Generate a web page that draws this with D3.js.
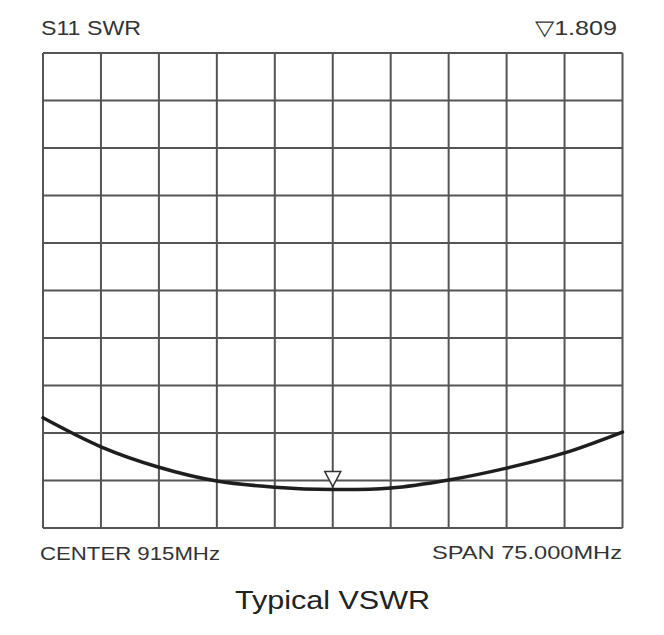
<!DOCTYPE html>
<html>
<head>
<meta charset="utf-8">
<script src="https://cdn.jsdelivr.net/npm/d3@7"></script>
<style>
  html, body { margin: 0; padding: 0; background: #fff; }
  svg { display: block; }
  text { font-family: Arial, "Liberation Sans", sans-serif; fill: #333; }
</style>
</head>
<body>
<svg id="chart" width="664" height="635"></svg>
<script>
// ---- data ----
const freqMHz = [877.5, 885, 892.5, 900, 907.5, 915, 922.5, 930, 937.5, 945, 952.5];
const swr     = [3.32, 2.71, 2.28, 1.99, 1.86, 1.809, 1.84, 2.01, 2.26, 2.58, 3.02];
const xGrid   = [877.5, 885, 892.5, 900, 907.5, 915, 922.5, 930, 937.5, 945, 952.5];
const yGrid   = [1, 2, 3, 4, 5, 6, 7, 8, 9, 10, 11];
const markerFreq = 915;
const markerValue = 1.809;
const titleLeft = "S11 SWR";
const centerLabel = "CENTER 915MHz";
const spanLabel = "SPAN 75.000MHz";
const caption = "Typical VSWR";

const svg = d3.select("#chart");
const m = { left: 43, right: 622.5, top: 53, bottom: 528 };

const x = d3.scaleLinear().domain([877.5, 952.5]).range([m.left, m.right]);
const y = d3.scaleLinear().domain([1, 11]).range([m.bottom, m.top]);

// grid
const g = svg.append("g");
g.selectAll("line.v").data(xGrid).join("line")
  .attr("x1", d => x(d)).attr("x2", d => x(d))
  .attr("y1", m.top).attr("y2", m.bottom)
  .attr("stroke", "#555").attr("stroke-width", 2);
g.selectAll("line.h").data(yGrid).join("line")
  .attr("y1", d => y(d)).attr("y2", d => y(d))
  .attr("x1", m.left).attr("x2", m.right)
  .attr("stroke", "#555").attr("stroke-width", 2);

// curve
const line = d3.line()
  .x((d, i) => x(freqMHz[i]))
  .y(d => y(d))
  .curve(d3.curveCatmullRom.alpha(0.5));
svg.append("path").datum(swr)
  .attr("d", line)
  .attr("fill", "none")
  .attr("stroke", "#1e1e1e")
  .attr("stroke-width", 3.5)
  .attr("stroke-linecap", "round");

// marker triangle
const mx = x(markerFreq), my = y(markerValue) - 3;
svg.append("path")
  .attr("d", `M${mx - 8},${my - 15} L${mx + 8},${my - 15} L${mx},${my} Z`)
  .attr("fill", "#fff")
  .attr("stroke", "#333")
  .attr("stroke-width", 1.5);

// texts
svg.append("text").attr("x", 41).attr("y", 35)
  .attr("font-size", 20).attr("textLength", 100).attr("lengthAdjust", "spacingAndGlyphs")
  .text(titleLeft);
svg.append("text").attr("x", 535).attr("y", 35)
  .attr("font-size", 21).attr("textLength", 82).attr("lengthAdjust", "spacingAndGlyphs")
  .text("\u25BD" + markerValue.toFixed(3));
svg.append("text").attr("x", 40).attr("y", 560)
  .attr("font-size", 19).attr("textLength", 180).attr("lengthAdjust", "spacingAndGlyphs")
  .text(centerLabel);
svg.append("text").attr("x", 432).attr("y", 559)
  .attr("font-size", 18).attr("textLength", 190).attr("lengthAdjust", "spacingAndGlyphs")
  .text(spanLabel);
svg.append("text").attr("x", 235).attr("y", 609)
  .attr("font-size", 25).attr("textLength", 195).attr("lengthAdjust", "spacingAndGlyphs")
  .style("fill", "#222")
  .text(caption);
</script>
</body>
</html>
